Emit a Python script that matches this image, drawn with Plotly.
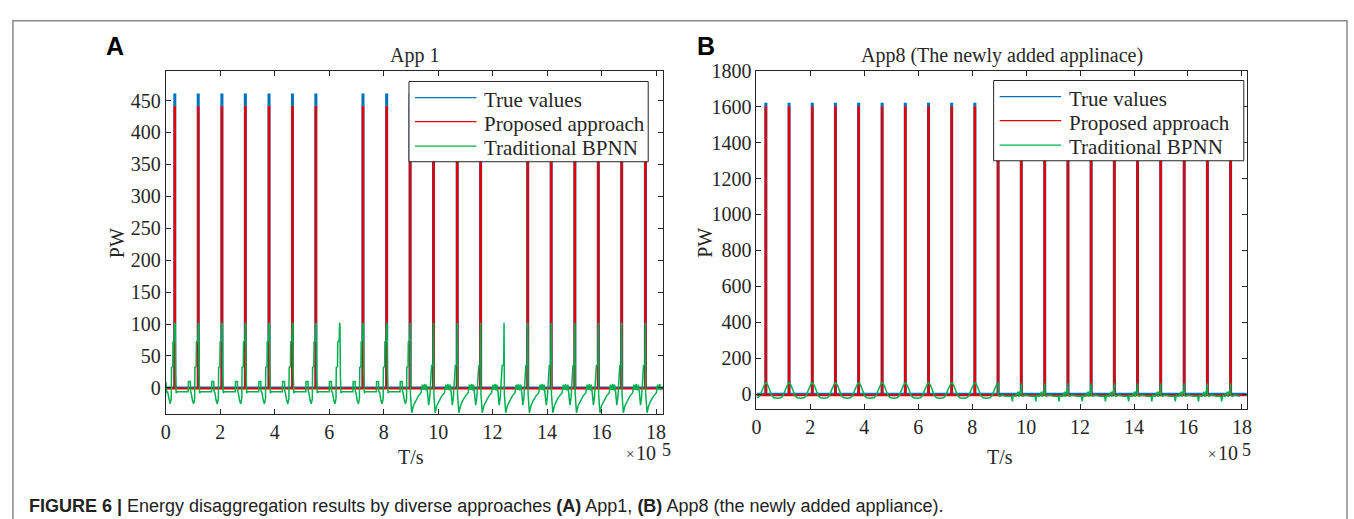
import plotly.graph_objects as go

W, H = 1354, 519

# ---------------- data (time in units of 1e5 s) ----------------
xtick_labels = [0, 2, 4, 6, 8, 10, 12, 14, 16, 18]
A_x_end = 18.26
B_x_end = 18.18

# Panel A (App 1)
A_spike_times = [0.33, 1.19, 2.06, 2.92, 3.79, 4.65, 5.51, 7.24, 8.11, 8.97,
                 9.83, 10.70, 11.56, 13.29, 14.15, 15.02, 15.88, 16.74, 17.61]
A_true_peak = 459
A_prop_peak = 440
A_yticks = [0, 50, 100, 150, 200, 250, 300, 350, 400, 450]

# green (BPNN) in panel A: one peak per day + day-shape readings
A_green_days = [0.33, 1.19, 2.06, 2.92, 3.79, 4.65, 5.51, 6.38, 7.24, 8.11, 8.97,
                9.83, 10.70, 11.56, 12.42, 13.29, 14.15, 15.02, 15.88, 16.74, 17.61]
A_green_peaks = [102, 102, 102, 102, 102, 102, 102, 102, 102, 102, 102,
                 102, 102, 102, 102, 102, 102, 102, 102, 102, 102]
A_pre_style = "aaaaaaaaaaabbbbbbbbbb"
A_post_style = "aaaaaaaaaabbbbbbbbbbb"
A_green_start = [(0.0, 10), (0.04, -8)]
GA_pre_a_dt = [-0.26, -0.21, -0.17, -0.13, -0.12, -0.075, -0.065, -0.012]
GA_pre_a_val = [-7, -20, -25, -17, 32, 33, 72, 74]
GA_post_a_dt = [0.015, 0.03, 0.05, 0.09, 0.49, 0.50, 0.57, 0.58]
GA_post_a_val = [100, 22, -8, -6, -6, 10, 10, -6]
GA_pre_b_dt = [-0.26, -0.22, -0.18, -0.14, -0.07, -0.012]
GA_pre_b_val = [5, -8, -27, -15, 35, 36]
GA_post_b_dt = [0.012, 0.06, 0.12, 0.20, 0.30, 0.40, 0.45, 0.49, 0.53, 0.57]
GA_post_b_val = [-10, -39, -28, -20, -13, -8, 5, -3, 6, -4]

# Panel B (App8)
B_spike_times = [0.35, 1.21, 2.07, 2.93, 3.79, 4.66, 5.52, 6.38, 7.24, 8.10, 8.96,
                 9.82, 10.69, 11.55, 12.41, 13.27, 14.13, 14.99, 15.86, 16.72, 17.58]
B_true_peak = 1615
B_prop_peak = 1595
B_prop_base = -6
B_yticks = [0, 200, 400, 600, 800, 1000, 1200, 1400, 1600, 1800]

B_green_peaks = [63, 63, 63, 63, 63, 63, 63, 63, 63, 63, 63,
                 60, 60, 60, 60, 60, 60, 60, 60, 60, 60]
B_pre_style = "aaaaaaaaaaabbbbbbbbbb"
B_post_style = "aaaaaaaaaabbbbbbbbbbb"
B_green_start = [(0.0, -17)]
GB_pre_a_dt = [-0.43, -0.30, -0.22, -0.15, -0.08, -0.03]
GB_pre_a_val = [-23, -20, -8, 20, 48, 60]
GB_post_a_dt = [0.03, 0.08, 0.15, 0.22, 0.30, 0.40]
GB_post_a_val = [60, 48, 20, -8, -20, -23]
GB_pre_b_dt = [-0.42, -0.36, -0.33, -0.30, -0.20, -0.12, -0.09, -0.06, -0.02]
GB_pre_b_val = [-10, -12, -40, -8, -12, 12, -15, 15, 5]
GB_post_b_dt = [0.005, 0.06, 0.15, 0.25, 0.35]
GB_post_b_val = [-5, -12, -5, -10, -12]

legend_labels = ["True values", "Proposed approach", "Traditional BPNN"]

# ---------------- helpers ----------------
SCALE = 1e5
HW = 0.01


def pulses(times, peak, base, x_end):
    xs, ys = [0.0], [base]
    for t in times:
        xs += [t - HW, t - HW, t + HW, t + HW]
        ys += [base, peak, peak, base]
    xs.append(x_end)
    ys.append(base)
    return [x * SCALE for x in xs], ys


def green_series(days, peaks, pre_style, post_style, start, pre, post, x_end):
    pts = list(start)
    for s, pk, a, b in zip(days, peaks, pre_style, post_style):
        dts, vals = pre[a]
        for dt, v in zip(dts, vals):
            if s + dt > pts[-1][0]:
                pts.append((s + dt, v))
        pts.append((s, pk))
        dts, vals = post[b]
        for dt, v in zip(dts, vals):
            pts.append((s + dt, v))
    pts = [p for p in pts if p[0] <= x_end]
    return [p[0] * SCALE for p in pts], [p[1] for p in pts]


BLUE, RED, GREEN = "#0072BD", "#E50000", "#00B050"
COLORS = [BLUE, RED, GREEN]
SERIF = "Liberation Serif"
INK = "#262626"


def px_x(x):
    return x / W


def px_y(y):
    return 1 - y / H


fig = go.Figure()

# Panel A
xb, yb = pulses(A_spike_times, A_true_peak, 0, A_x_end)
fig.add_trace(go.Scatter(x=xb, y=yb, mode="lines", name=legend_labels[0],
                         line=dict(color=BLUE, width=2.5), xaxis="x", yaxis="y"))
xr, yr = pulses(A_spike_times, A_prop_peak, -1, A_x_end)
fig.add_trace(go.Scatter(x=xr, y=yr, mode="lines", name=legend_labels[1],
                         line=dict(color=RED, width=2), xaxis="x", yaxis="y"))
xg, yg = green_series(A_green_days, A_green_peaks, A_pre_style, A_post_style, A_green_start,
                      {"a": (GA_pre_a_dt, GA_pre_a_val), "b": (GA_pre_b_dt, GA_pre_b_val)},
                      {"a": (GA_post_a_dt, GA_post_a_val), "b": (GA_post_b_dt, GA_post_b_val)},
                      A_x_end)
fig.add_trace(go.Scatter(x=xg, y=yg, mode="lines", name=legend_labels[2],
                         line=dict(color=GREEN, width=1.5), xaxis="x", yaxis="y"))

# Panel B
xb, yb = pulses(B_spike_times, B_true_peak, 0, B_x_end)
fig.add_trace(go.Scatter(x=xb, y=yb, mode="lines", name=legend_labels[0],
                         line=dict(color=BLUE, width=2.5), xaxis="x2", yaxis="y2"))
xr, yr = pulses(B_spike_times, B_prop_peak, B_prop_base, B_x_end)
fig.add_trace(go.Scatter(x=xr, y=yr, mode="lines", name=legend_labels[1],
                         line=dict(color=RED, width=2), xaxis="x2", yaxis="y2"))
xg, yg = green_series(B_spike_times, B_green_peaks, B_pre_style, B_post_style, B_green_start,
                      {"a": (GB_pre_a_dt, GB_pre_a_val), "b": (GB_pre_b_dt, GB_pre_b_val)},
                      {"a": (GB_post_a_dt, GB_post_a_val), "b": (GB_post_b_dt, GB_post_b_val)},
                      B_x_end)
fig.add_trace(go.Scatter(x=xg, y=yg, mode="lines", name=legend_labels[2],
                         line=dict(color=GREEN, width=1.5), xaxis="x2", yaxis="y2"))

tickfont = dict(family=SERIF, size=20, color=INK)


def xaxis_cfg(x_end, domain, anchor):
    return dict(domain=domain, anchor=anchor, range=[0, x_end * SCALE],
                tickvals=[v * SCALE for v in xtick_labels],
                ticktext=[str(v) for v in xtick_labels], ticks="inside", ticklen=5,
                tickcolor=INK, showline=True, linecolor=INK, linewidth=1, mirror="ticks",
                showgrid=False, zeroline=False, tickfont=tickfont)


def yaxis_cfg(rng, vals, domain, anchor):
    return dict(domain=domain, anchor=anchor, range=rng, tickvals=vals, ticks="inside",
                ticklen=5, tickcolor=INK, showline=True, linecolor=INK, linewidth=1,
                mirror="ticks", showgrid=False, zeroline=False, tickfont=tickfont)


fig.update_layout(
    width=W, height=H, margin=dict(l=0, r=0, t=0, b=0),
    paper_bgcolor="white", plot_bgcolor="white", showlegend=False,
    xaxis=xaxis_cfg(A_x_end, [px_x(162), px_x(663)], "y"),
    yaxis=yaxis_cfg([-41.4, 496.8], A_yticks, [px_y(412), px_y(61)], "x"),
    xaxis2=xaxis_cfg(B_x_end, [px_x(757), px_x(1251)], "y2"),
    yaxis2=yaxis_cfg([-85, 1800], B_yticks, [px_y(407), px_y(61)], "x2"),
)

ann = []
shapes = []


def text(x, y, s, size=20, family=SERIF, xanchor="center", yanchor="middle", angle=0, color=INK):
    ann.append(dict(x=px_x(x), y=px_y(y), xref="paper", yref="paper", text=s, showarrow=False,
                    font=dict(family=family, size=size, color=color), xanchor=xanchor,
                    yanchor=yanchor, textangle=angle))


def legend_box(x0, y0, x1, y1, line_x0, line_x1, rows_y, text_x):
    shapes.append(dict(type="rect", xref="paper", yref="paper", x0=px_x(x0), x1=px_x(x1),
                       y0=px_y(y1), y1=px_y(y0), line=dict(color=INK, width=1),
                       fillcolor="white", layer="above"))
    for yy, lab, col in zip(rows_y, legend_labels, COLORS):
        shapes.append(dict(type="line", xref="paper", yref="paper", x0=px_x(line_x0),
                           x1=px_x(line_x1), y0=px_y(yy), y1=px_y(yy),
                           line=dict(color=col, width=1.3), layer="above"))
        text(text_x, yy + 2, lab, size=21, xanchor="left")


legend_box(407, 72, 648, 154, 413, 475, [88.5, 113, 138], 481)
legend_box(996, 71, 1248, 153, 1002, 1064, [87.5, 112, 137], 1070)

text(412.5, 45, "App 1")
text(1004, 45, "App8 (The newly added applinace)")
text(113, 237, "PW", angle=-90)
text(705, 237, "PW", angle=-90)
text(409, 456, "T/s")
text(1002, 456, "T/s")
text(630, 453, "×", size=15)
text(646, 452, "10")
text(666, 449, "5", size=18)
text(1216, 453, "×", size=15)
text(1232, 452, "10")
text(1251, 449, "5", size=18)
text(111, 36, "<b>A</b>", size=25, family="Liberation Sans", color="black")
text(706, 36, "<b>B</b>", size=25, family="Liberation Sans", color="black")
text(22, 506, "<b>FIGURE 6 |</b> Energy disaggregation results by diverse approaches <b>(A)</b> App1, "
     "<b>(B)</b> App8 (the newly added appliance).", size=18,
     family="Liberation Sans", xanchor="left", color="#222")

shapes.append(dict(type="rect", xref="paper", yref="paper", x0=px_x(8), x1=px_x(1352),
                   y0=px_y(560), y1=px_y(10), line=dict(color="#8a8a8a", width=1.5),
                   fillcolor="rgba(0,0,0,0)", layer="below"))
fig.update_layout(annotations=ann, shapes=shapes)

fig.write_html("out.html", config={"displayModeBar": False},
               post_script="document.body.style.margin='0';document.body.style.overflow='hidden';")
